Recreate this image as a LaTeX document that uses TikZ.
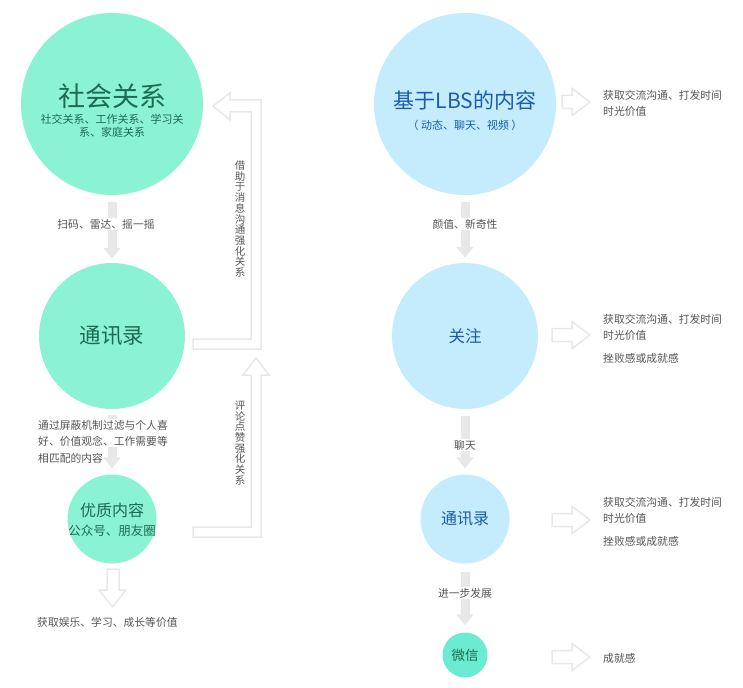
\documentclass[tikz,border=0pt]{standalone}
\usepackage{fontspec}
\setmainfont{Noto Sans CJK SC}
\usetikzlibrary{calc,arrows.meta}
\definecolor{mint}{HTML}{8CF2D4}
\definecolor{minttext}{HTML}{1D6B50}
\definecolor{teal}{HTML}{6BEBD2}
\definecolor{sky}{HTML}{C5ECFD}
\definecolor{skytext}{HTML}{1A5BAE}
\definecolor{pale}{HTML}{E8E8E8}
\definecolor{note}{HTML}{555555}
\def\fs#1{\fontsize{#1}{#1}\selectfont}
\def\hollowright[#1](#2)(#3){\draw[#1] ($(#2)+(0,-6.5)$) -- ++(#3,0) -- ++(0,-7) -- ++(18,13.5) -- ++(-18,13.5) -- ++(0,-7) -- ++(-#3,0) -- cycle;}

\begin{document}
\begin{tikzpicture}[x=1pt,y=-1pt]
			%%%%% START %%%%%
			\useasboundingbox (0,0) rectangle (743,687);
			
			% left column
			\node[circle, fill=mint, minimum size=182pt, inner sep=0] (soc) at (112,104) {};
			\node[text=minttext, font=\fs{27}] (soct) at (112,96) {社会关系};
			\node[text=minttext, font=\fontsize{11}{13}\selectfont, align=center] (socs) at (112,126) {社交关系、工作关系、学习关\\系、家庭关系};
			
			\node[circle, fill=mint, minimum size=146pt, inner sep=0, text=minttext, font=\fs{21.5}] (txl) at (112,336) {通讯录};
			
			\node[circle, fill=mint, minimum size=89pt, inner sep=0] (yz) at (112,519) {};
			\node[text=minttext, font=\fs{16}] (yzt) at (112,510) {优质内容};
			\node[text=minttext, font=\fs{12.5}] (yzs) at (112,531) {公众号、朋友圈};
			
			% right column
			\node[circle, fill=sky, minimum size=182pt, inner sep=0] (lbs) at (465,104) {};
			\node[text=skytext, font=\fs{21}] (lbst) at (465,100) {基于LBS的内容};
			\node[text=skytext, font=\fs{11}] (lbss) at (465,125) {（ 动态、聊天、视频 ）};
			
			\node[circle, fill=sky, minimum size=146pt, inner sep=0, text=skytext, font=\fs{16.5}] (gz) at (465,336) {关注};
			\node[circle, fill=sky, minimum size=89pt, inner sep=0, text=skytext, font=\fs{16}] (txr) at (465,519) {通讯录};
			\node[circle, fill=teal, minimum size=45pt, inner sep=0, text=minttext, font=\fs{13.5}] (wx) at (465,655) {微信};
			
			% solid arrows
			\draw[line width=9pt, color=pale, -{Triangle[width=17pt,length=11pt]}, shorten <=7pt, shorten >=4pt] (soc) -- (txl);
			\draw[line width=9pt, color=pale, -{Triangle[width=17pt,length=11pt]}, shorten <=6pt, shorten >=6pt] (txl) -- (yz);
			\draw[line width=9pt, color=pale, -{Triangle[width=17pt,length=11pt]}, shorten <=7pt, shorten >=5pt] (lbs) -- (gz);
			\draw[line width=9pt, color=pale, -{Triangle[width=17pt,length=11pt]}, shorten <=7pt, shorten >=6pt] (gz) -- (txr);
			\draw[line width=9pt, color=pale, -{Triangle[width=17pt,length=11pt]}, shorten <=8pt, shorten >=7pt] (txr) -- (wx);
			
			\node[fill=white, inner sep=1pt, text=note, font=\fs{10.8}] (l1) at (106,224) {扫码、雷达、摇一摇};
			\node[fill=white, inner sep=1pt, text=note, font=\fontsize{10.8}{16.5}\selectfont, align=left, anchor=base west] (l2) at (37,445.5) {通过屏蔽机制过滤与个人喜\\好、价值观念、工作需要等};
			\node[fill=white, inner sep=1pt, text=note, font=\fs{10.8}, anchor=base west] (l3) at (37,462) {相匹配的内容};
			\node[fill=white, inner sep=1pt, text=note, font=\fs{10.8}] (r1) at (465,224) {颜值、新奇性};
			\node[fill=white, inner sep=1pt, text=note, font=\fs{10.8}] (r2) at (465,445) {聊天};
			\node[fill=white, inner sep=1pt, text=note, font=\fs{10.8}] (r3) at (465,593) {进一步发展};
			
			% hollow elbows
			\draw[line width=1.5pt, color=pale, line join=miter] (193,349) -- (261,349) -- (261,100) -- (230,100) -- (230,93) -- (213,106) -- (230,120) -- (230,112) -- (251,112) -- (251,339) -- (193,339) -- cycle;
			\draw[line width=1.5pt, color=pale, line join=miter] (193,537) -- (261,537) -- (261,375) -- (269,375) -- (256,358) -- (243,375) -- (251,375) -- (251,527) -- (193,527) -- cycle;
			\node[text=note, font=\fontsize{10.5}{10.7}\selectfont, align=center] (e1) at (240,219) {借\\助\\于\\消\\息\\沟\\通\\强\\化\\关\\系};
			\node[text=note, font=\fontsize{10.5}{10.7}\selectfont, align=center] (e2) at (240,443) {评\\论\\点\\赞\\强\\化\\关\\系};
			
			% hollow down arrow and its text
			\draw[line width=1.5pt, color=pale] (107,569) -- (119,569) -- (119,590) -- (126,590) -- (112.5,607) -- (99,590) -- (107,590) -- cycle;
			\node[text=note, font=\fs{10.8}, anchor=base west, inner sep=0] (yzv) at (37,626) {获取娱乐、学习、成长等价值};
			
			% hollow right arrows
			\hollowright[line width=1.5pt, color=pale](562,102)(10);
			\hollowright[line width=1.5pt, color=pale](552,335)(20);
			\hollowright[line width=1.5pt, color=pale](552,520)(20);
			\hollowright[line width=1.5pt, color=pale](552,657)(20);
			
			\node[text=note, font=\fontsize{10.8}{16.5}\selectfont, align=left, anchor=base west, inner sep=0] (lbsv) at (603,116) {获取交流沟通、打发时间\\时光价值};
			\node[text=note, font=\fontsize{10.8}{16.5}\selectfont, align=left, anchor=base west, inner sep=0] (gzv) at (603,362) {获取交流沟通、打发时间\\时光价值\\[6pt]挫败感或成就感};
			\node[text=note, font=\fontsize{10.8}{16.5}\selectfont, align=left, anchor=base west, inner sep=0] (txv) at (603,545) {获取交流沟通、打发时间\\时光价值\\[6pt]挫败感或成就感};
			\node[text=note, font=\fs{10.8}, anchor=base west, inner sep=0] (wxv) at (603,662) {成就感};
			
			%%%%% END %%%%%
		\end{tikzpicture}
\end{document}
